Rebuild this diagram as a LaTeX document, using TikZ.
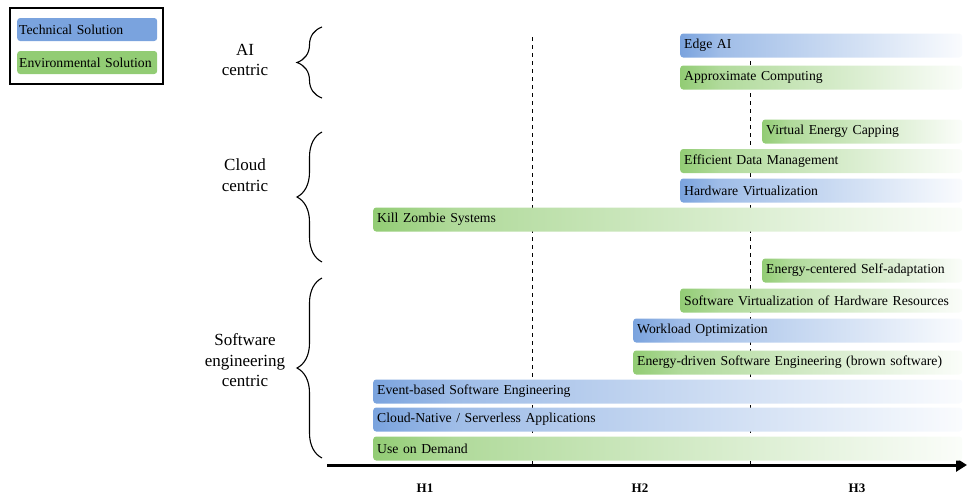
\documentclass[tikz,border=0pt]{standalone}
\usepackage{fontspec}
\setmainfont{Liberation Serif}
\usetikzlibrary{decorations.pathreplacing,arrows.meta}
\definecolor{techblue}{RGB}{122,163,222}
\definecolor{envgreen}{RGB}{146,204,116}
% fades: strong at the left end, easing quickly, then running out to white
\pgfdeclarehorizontalshading{bluefade}{100bp}{color(0bp)=(techblue);
  color(25bp)=(techblue); color(32bp)=(techblue!72!white);
  color(75bp)=(techblue!4!white); color(100bp)=(techblue!4!white)}
\pgfdeclarehorizontalshading{greenfade}{100bp}{color(0bp)=(envgreen);
  color(25bp)=(envgreen); color(32bp)=(envgreen!72!white);
  color(75bp)=(envgreen!4!white); color(100bp)=(envgreen!4!white)}
\tikzset{
  bar/.style={anchor=west, rounded corners=3pt, minimum height=24pt,
    inner xsep=4pt, inner ysep=0pt, align=left,
    font=\fontsize{13.7}{15}\selectfont},
  techbar/.style={bar, shading=bluefade, shading angle=0},
  envbar/.style={bar, shading=greenfade, shading angle=0},
  keybar/.style={anchor=west, rounded corners=3pt, minimum height=23pt,
    minimum width=140pt, inner xsep=2pt, inner ysep=0pt, text width=136pt,
    align=left, font=\fontsize{13.7}{15}\selectfont},
  grouplabel/.style={align=center, font=\fontsize{17}{20.5}\selectfont},
  horizon/.style={font=\bfseries\fontsize{13}{15}\selectfont},
  groupbrace/.style={line width=1.1pt,
    decorate, decoration={brace, amplitude=25pt, aspect=0.5}},
  boundary/.style={line width=0.8pt, dash pattern=on 4pt off 4pt},
}
\begin{document}
\begin{tikzpicture}[x=1pt, y=-1pt]
\useasboundingbox (0,0) rectangle (967,496);

% legend
\draw[line width=1.1pt] (10,8) rectangle (163,84);
\node[keybar, fill=techblue] (keytech) at (17,29.5) {Technical Solution};
\node[keybar, fill=envgreen] (keyenv) at (17,62.5) {Environmental Solution};

% horizon boundaries
\draw[boundary] (532,37) -- (532,468);
\draw[boundary] (750,37) -- (750,468);

% time axis
\coordinate (axstart) at (327,465);
\coordinate (axend) at (967,465);
\draw[line width=3pt, -{Triangle[length=11pt,width=13pt]}] (axstart) -- (axend);
\node[horizon] (h1) at (425,488) {H1};
\node[horizon] (h2) at (640,488) {H2};
\node[horizon] (h3) at (857,488) {H3};

% groups
\node[grouplabel] (ai) at (245,60) {AI\\centric};
\node[grouplabel] (cloud) at (245,175) {Cloud\\centric};
\node[grouplabel] (sweng) at (245,360.5) {Software\\engineering\\centric};
\draw[groupbrace] (322,98) -- (322,27);
\draw[groupbrace] (322,262) -- (322,132);
\draw[groupbrace] (322,458) -- (322,278);

% AI centric
\node[techbar, text width=274pt] (edgeai) at (680,45.5) {Edge AI};
\node[envbar, text width=274pt] (approx) at (680,77.5) {Approximate Computing};

% cloud centric
\node[envbar, text width=192pt] (capping) at (762,131.5) {Virtual Energy Capping};
\node[envbar, text width=274pt] (datamgmt) at (680,161) {Efficient Data Management};
\node[techbar, text width=274pt] (hwvirt) at (680,190.5) {Hardware Virtualization};
\node[envbar, text width=581pt] (zombie) at (373,219.5) {Kill Zombie Systems};

% software engineering centric
\node[envbar, text width=192pt] (selfadapt) at (762,270.5) {Energy-centered Self-adaptation};
\node[envbar, text width=274pt] (swvirt) at (680,300.5) {Software Virtualization of Hardware Resources};
\node[techbar, text width=321pt] (workload) at (633,330.5) {Workload Optimization};
\node[envbar, text width=321pt] (brown) at (633,362.5) {Energy-driven Software Engineering (brown software)};
\node[techbar, text width=581pt] (eventse) at (373,391.5) {Event-based Software Engineering};
\node[techbar, text width=581pt] (cloudnative) at (373,419.5) {Cloud-Native / Serverless Applications};
\node[envbar, text width=581pt] (ondemand) at (373,448.5) {Use on Demand};
\end{tikzpicture}
\end{document}
